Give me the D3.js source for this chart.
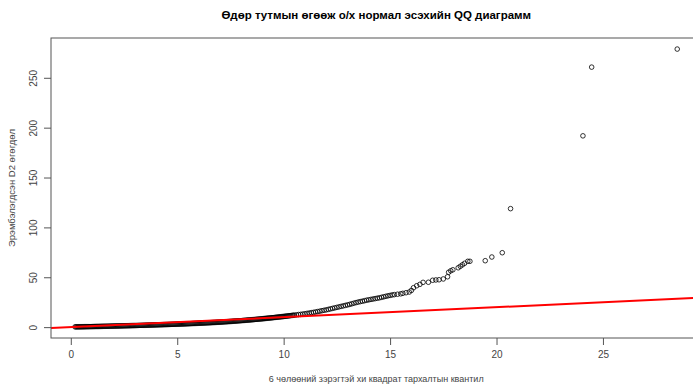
<!DOCTYPE html>
<html>
<head>
<meta charset="utf-8">
<script src="https://cdn.jsdelivr.net/npm/d3@7"></script>
<style>
  body { margin: 0; background: #fff; }
  text { font-family: "Liberation Sans", Arial, sans-serif; }
</style>
</head>
<body>
<script>
// chi-square (df = 6) theoretical quantiles
const quantiles = [
  0.2, 0.25, 0.3, 0.35, 0.4, 0.45,
  0.5, 0.55, 0.6, 0.65, 0.7, 0.75, 0.8, 0.85, 0.9, 0.95,
  1.0, 1.05, 1.1, 1.15, 1.2, 1.25, 1.3, 1.35, 1.4, 1.45,
  1.5, 1.55, 1.6, 1.65, 1.7, 1.75, 1.8, 1.85, 1.9, 1.95,
  2.0, 2.05, 2.1, 2.15, 2.2, 2.25, 2.3, 2.35, 2.4, 2.45,
  2.5, 2.55, 2.6, 2.65, 2.7, 2.75, 2.8, 2.85, 2.9, 2.95,
  3.0, 3.05, 3.1, 3.15, 3.2, 3.25, 3.3, 3.35, 3.4, 3.45,
  3.5, 3.55, 3.6, 3.65, 3.7, 3.75, 3.8, 3.85, 3.9, 3.95,
  4.0, 4.05, 4.1, 4.15, 4.2, 4.25, 4.3, 4.35, 4.4, 4.45,
  4.5, 4.55, 4.6, 4.65, 4.7, 4.75, 4.8, 4.85, 4.9, 4.95,
  5.0, 5.05, 5.1, 5.15, 5.2, 5.25, 5.3, 5.35, 5.4, 5.45,
  5.5, 5.55, 5.6, 5.65, 5.7, 5.75, 5.8, 5.85, 5.9, 5.95,
  6.0, 6.05, 6.1, 6.15, 6.2, 6.25, 6.3, 6.35, 6.4, 6.45,
  6.5, 6.55, 6.6, 6.65, 6.7, 6.75, 6.8, 6.85, 6.9, 6.95,
  7.0, 7.05, 7.1, 7.15, 7.2, 7.25, 7.3, 7.35, 7.4, 7.45,
  7.5, 7.55, 7.6, 7.65, 7.7, 7.75, 7.8, 7.85, 7.9, 7.95,
  8.0, 8.05, 8.1, 8.15, 8.2, 8.25, 8.3, 8.35, 8.4, 8.45,
  8.5, 8.55, 8.6, 8.65, 8.7, 8.75, 8.8, 8.85, 8.9, 8.95,
  9.0, 9.05, 9.1, 9.15, 9.2, 9.25, 9.3, 9.35, 9.4, 9.45,
  9.5, 9.55, 9.6, 9.65, 9.7, 9.75, 9.8, 9.85, 9.9, 9.95,
  10.0, 10.05, 10.1, 10.15, 10.2, 10.25, 10.3, 10.35, 10.4, 10.45,
  10.5, 10.6, 10.7, 10.8, 10.9, 11.0, 11.1, 11.2, 11.3, 11.4,
  11.5, 11.6, 11.7, 11.8, 11.9, 12.0, 12.1, 12.2, 12.3, 12.4,
  12.5, 12.6, 12.7, 12.8, 12.9, 13.0, 13.1, 13.2, 13.3, 13.4,
  13.5, 13.6, 13.7, 13.8, 13.9, 14.0, 14.1, 14.2, 14.3, 14.4,
  14.5, 14.6, 14.7, 14.8, 14.9, 15.0, 15.1, 15.2, 15.35, 15.5,
  15.6, 15.75, 15.9, 16.0, 16.1, 16.25, 16.4, 16.55, 16.8, 17.0,
  17.15, 17.3, 17.5, 17.7, 17.75, 17.85, 17.95, 18.2, 18.3, 18.4,
  18.5, 18.65, 18.75, 19.47, 19.78, 20.27, 20.66, 24.06, 24.47, 28.49
];

// ordered squared Mahalanobis distances (D2)
const distances = [
  0.25, 0.27, 0.28, 0.3, 0.32, 0.33,
  0.35, 0.37, 0.39, 0.41, 0.43, 0.45, 0.47, 0.49, 0.51, 0.53,
  0.55, 0.58, 0.6, 0.63, 0.65, 0.68, 0.7, 0.73, 0.75, 0.78,
  0.8, 0.83, 0.85, 0.88, 0.9, 0.93, 0.95, 0.98, 1.0, 1.03,
  1.05, 1.08, 1.1, 1.13, 1.15, 1.18, 1.2, 1.23, 1.25, 1.28,
  1.3, 1.33, 1.36, 1.39, 1.42, 1.45, 1.48, 1.51, 1.54, 1.57,
  1.6, 1.63, 1.66, 1.69, 1.72, 1.75, 1.78, 1.81, 1.84, 1.87,
  1.9, 1.94, 1.97, 2.01, 2.04, 2.08, 2.11, 2.15, 2.18, 2.22,
  2.25, 2.29, 2.32, 2.36, 2.39, 2.43, 2.46, 2.5, 2.53, 2.57,
  2.6, 2.64, 2.68, 2.72, 2.76, 2.8, 2.84, 2.88, 2.92, 2.96,
  3.0, 3.04, 3.08, 3.12, 3.16, 3.2, 3.24, 3.28, 3.32, 3.36,
  3.4, 3.45, 3.5, 3.55, 3.6, 3.65, 3.7, 3.75, 3.8, 3.85,
  3.9, 3.95, 4.0, 4.05, 4.1, 4.15, 4.2, 4.25, 4.3, 4.35,
  4.4, 4.46, 4.52, 4.58, 4.64, 4.7, 4.76, 4.82, 4.88, 4.94,
  5.0, 5.07, 5.14, 5.21, 5.28, 5.35, 5.42, 5.49, 5.56, 5.63,
  5.7, 5.78, 5.86, 5.94, 6.02, 6.1, 6.18, 6.26, 6.34, 6.42,
  6.5, 6.59, 6.68, 6.77, 6.86, 6.95, 7.04, 7.13, 7.22, 7.31,
  7.4, 7.5, 7.6, 7.7, 7.8, 7.9, 8.0, 8.1, 8.2, 8.3,
  8.4, 8.51, 8.62, 8.73, 8.84, 8.95, 9.06, 9.17, 9.28, 9.39,
  9.5, 9.62, 9.74, 9.86, 9.98, 10.1, 10.22, 10.34, 10.46, 10.58,
  10.7, 10.83, 10.96, 11.09, 11.22, 11.35, 11.48, 11.61, 11.74, 11.87,
  12.0, 12.3, 12.6, 12.8, 13.1, 13.4, 13.8, 14.1, 14.5, 14.8,
  15.2, 15.6, 16.0, 16.5, 16.9, 17.3, 17.8, 18.3, 18.8, 19.3,
  19.8, 20.3, 20.8, 21.3, 21.8, 22.3, 22.8, 23.4, 24.0, 24.6,
  25.1, 25.6, 26.0, 26.5, 27.0, 27.4, 27.8, 28.2, 28.6, 29.0,
  29.4, 29.9, 30.4, 30.9, 31.4, 31.8, 32.3, 32.6, 33.0, 33.4,
  33.9, 34.5, 35.2, 36.8, 39.5, 41.5, 42.9, 44.9, 45.0, 47.0,
  47.3, 47.5, 48.3, 50.5, 55.0, 56.5, 57.5, 59.5, 61.0, 62.5,
  64.0, 66.0, 66.0, 66.6, 70.3, 74.6, 118.8, 191.8, 260.7, 278.8
];

// reference line: intercept, slope
const refLine = [0, 1];

const xTicks = [0, 5, 10, 15, 20, 25];
const yTicks = [0, 50, 100, 150, 200, 250];

const titleText = "Өдөр тутмын өгөөж о/х нормал эсэхийн QQ диаграмм";
const xLabel = "6 чөлөөний зэрэгтэй хи квадрат тархалтын квантил";
const yLabel = "Эрэмбэлэгдсэн D2 өгөгдөл";

const width = 693;
const height = 385;
const plotLeft = 51, plotRight = 701.5, plotTop = 38, plotBottom = 338;
const midX = (plotLeft + plotRight) / 2;
const midY = (plotTop + plotBottom) / 2;

var svg = d3.select("body").append("svg")
    .attr("width", width)
    .attr("height", height);

const xScale = d3.scaleLinear().domain([-0.93, 29.63]).range([plotLeft, plotRight]);
const yScale = d3.scaleLinear().domain([-10.9, 289.9]).range([plotBottom, plotTop]);

svg.append("defs").append("clipPath")
    .attr("id", "plot-clip")
    .append("rect")
    .attr("x", plotLeft).attr("y", plotTop)
    .attr("width", plotRight - plotLeft).attr("height", plotBottom - plotTop);

// points
svg.append("g")
    .attr("class", "points")
    .selectAll("circle")
    .data(d3.zip(quantiles, distances))
    .join("circle")
    .attr("cx", d => xScale(d[0]))
    .attr("cy", d => yScale(d[1]))
    .attr("r", 2.3)
    .attr("fill", "none")
    .attr("stroke", "#000")
    .attr("stroke-width", 0.8);

// red reference line
const xd = xScale.domain();
svg.append("line")
    .attr("clip-path", "url(#plot-clip)")
    .attr("x1", xScale(xd[0]))
    .attr("y1", yScale(refLine[0] + refLine[1] * xd[0]))
    .attr("x2", xScale(xd[1]))
    .attr("y2", yScale(refLine[0] + refLine[1] * xd[1]))
    .attr("stroke", "#f00")
    .attr("stroke-width", 2);

// box
svg.append("rect")
    .attr("x", plotLeft).attr("y", plotTop)
    .attr("width", plotRight - plotLeft).attr("height", plotBottom - plotTop)
    .attr("fill", "none")
    .attr("stroke", "#555")
    .attr("stroke-width", 1);

var xAxis = d3.axisBottom(xScale).tickValues(xTicks).tickSize(7).tickPadding(6);
var yAxis = d3.axisLeft(yScale).tickValues(yTicks).tickSize(7);

var gx = svg.append("g")
    .attr("transform", "translate(0," + plotBottom + ")")
    .call(xAxis);
gx.select(".domain").remove();
gx.selectAll("line").attr("stroke", "#555");
gx.selectAll("text").attr("fill", "#444").style("font-size", "10px");

var gy = svg.append("g")
    .attr("transform", "translate(" + plotLeft + ",0)")
    .call(yAxis);
gy.select(".domain").remove();
gy.selectAll("line").attr("stroke", "#555");
gy.selectAll("text")
    .attr("fill", "#444")
    .style("font-size", "10px")
    .attr("text-anchor", "middle")
    .attr("x", 0)
    .attr("y", -14)
    .attr("dy", 0)
    .attr("transform", "rotate(-90)");

// titles
svg.append("text")
    .attr("x", midX).attr("y", 19)
    .attr("text-anchor", "middle")
    .style("font-size", "11.5px")
    .style("font-weight", "bold")
    .attr("fill", "#000")
    .text(titleText);

svg.append("text")
    .attr("x", midX).attr("y", 382)
    .attr("text-anchor", "middle")
    .style("font-size", "9px")
    .attr("fill", "#444")
    .text(xLabel);

svg.append("text")
    .attr("transform", "translate(15," + midY + ") rotate(-90)")
    .attr("text-anchor", "middle")
    .style("font-size", "9.5px")
    .attr("fill", "#444")
    .text(yLabel);
</script>
</body>
</html>
